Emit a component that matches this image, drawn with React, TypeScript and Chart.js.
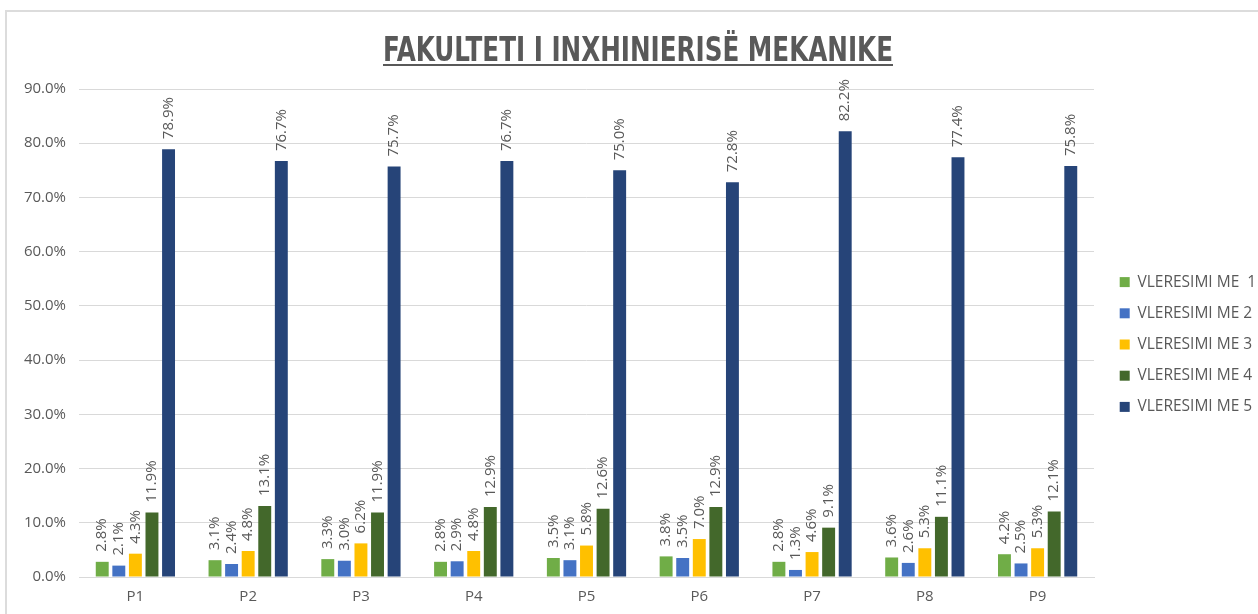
import React, { useEffect, useRef } from 'react';
import { Chart, registerables } from 'chart.js';

Chart.register(...registerables);

const categories = ['P1', 'P2', 'P3', 'P4', 'P5', 'P6', 'P7', 'P8', 'P9'];
const seriesNames = ['VLERESIMI ME  1', 'VLERESIMI ME 2', 'VLERESIMI ME 3', 'VLERESIMI ME 4', 'VLERESIMI ME 5'];
const grade1 = [2.8, 3.1, 3.3, 2.8, 3.5, 3.8, 2.8, 3.6, 4.2];
const grade2 = [2.1, 2.4, 3.0, 2.9, 3.1, 3.5, 1.3, 2.6, 2.5];
const grade3 = [4.3, 4.8, 6.2, 4.8, 5.8, 7.0, 4.6, 5.3, 5.3];
const grade4 = [11.9, 13.1, 11.9, 12.9, 12.6, 12.9, 9.1, 11.1, 12.1];
const grade5 = [78.9, 76.7, 75.7, 76.7, 75.0, 72.8, 82.2, 77.4, 75.8];
const seriesColors = ['#70AD47', '#4472C4', '#FFC000', '#43682B', '#264478'];
const titleText = 'FAKULTETI I INXHINIERISË MEKANIKE';
const yMin = 0;
const yMax = 90;
const yStep = 10;

const TEXT_FONT = "'Open Sans', 'Noto Sans', sans-serif";
const TITLE_FONT = "'Liberation Sans Narrow', 'DejaVu Sans Condensed', 'Liberation Sans', sans-serif";

const legendPlugin = {
  id: 'legendTweak',
  beforeLayout(chart: any) {
    const legend = chart.legend;
    if (legend && !legend.__patched) {
      const orig = legend.fit.bind(legend);
      legend.fit = function () {
        orig();
        this.width = 164;
      };
      legend.__patched = true;
    }
  },
  afterLayout(chart: any) {
    const legend = chart.legend;
    if (legend) {
      legend.left += 10;
      legend.right += 10;
      legend.top -= 7;
      legend.bottom -= 7;
    }
  },
};

const dataLabelPlugin = {
  id: 'barLabels',
  afterDatasetsDraw(chart: any) {
    const ctx = chart.ctx;
    ctx.save();
    ctx.font = `15px ${TEXT_FONT}`;
    ctx.fillStyle = '#595959';
    ctx.textAlign = 'left';
    ctx.textBaseline = 'middle';
    chart.data.datasets.forEach((ds: any, di: number) => {
      const meta = chart.getDatasetMeta(di);
      meta.data.forEach((bar: any, i: number) => {
        const v = ds.data[i];
        ctx.save();
        ctx.translate(bar.x, bar.y - 10);
        ctx.rotate(-Math.PI / 2);
        ctx.fillText(v.toFixed(1) + '%', 0, 0);
        ctx.restore();
      });
    });
    ctx.restore();
  },
};

const titlePlugin = {
  id: 'underlinedTitle',
  afterDraw(chart: any) {
    const ctx = chart.ctx;
    const targetWidth = 510;
    const cx = 638;
    const baseline = 61;
    ctx.save();
    ctx.font = `bold 33px ${TITLE_FONT}`;
    const w = ctx.measureText(titleText).width;
    const sx = targetWidth / w;
    ctx.fillStyle = '#595959';
    ctx.textAlign = 'center';
    ctx.textBaseline = 'alphabetic';
    ctx.translate(cx, baseline);
    ctx.scale(sx, 1);
    ctx.fillText(titleText, 0, 0);
    ctx.restore();
    ctx.save();
    ctx.fillStyle = '#595959';
    ctx.fillRect(cx - targetWidth / 2, baseline + 3, targetWidth, 2);
    ctx.restore();
  },
};

export default function App() {
  const canvasRef = useRef<HTMLCanvasElement | null>(null);

  useEffect(() => {
    if (!canvasRef.current) return;
    const values = [grade1, grade2, grade3, grade4, grade5];
    const chart = new Chart(canvasRef.current, {
      type: 'bar',
      data: {
        labels: categories,
        datasets: values.map((d, i) => ({
          label: seriesNames[i],
          data: d,
          backgroundColor: seriesColors[i],
          borderWidth: 0,
          categoryPercentage: 0.735,
          barPercentage: 0.78,
        })),
      },
      options: {
        animation: false,
        responsive: true,
        maintainAspectRatio: false,
        layout: { padding: { left: 0, right: 0, top: 89, bottom: 0 } },
        plugins: {
          title: { display: false },
          legend: {
            display: true,
            position: 'right',
            align: 'center',
            labels: {
              boxWidth: 10,
              boxHeight: 10,
              padding: 15.7,
              color: '#595959',
              font: { family: TEXT_FONT, size: 15.5 },
            },
          },
          tooltip: { enabled: false },
        },
        scales: {
          x: {
            grid: { display: false, drawTicks: false },
            border: { display: true, color: '#d9d9d9', width: 1 },
            ticks: { color: '#595959', font: { family: TEXT_FONT, size: 15 }, padding: 11 },
            afterFit: (scale: any) => {
              scale.height = 37;
            },
          },
          y: {
            min: yMin,
            max: yMax,
            grid: { color: '#d9d9d9', lineWidth: 1, drawTicks: false },
            border: { display: false },
            ticks: {
              stepSize: yStep,
              color: '#595959',
              font: { family: TEXT_FONT, size: 15 },
              padding: 13,
              callback: (v: any) => Number(v).toFixed(1) + '%',
            },
            afterFit: (scale: any) => {
              scale.width = 79;
            },
          },
        },
      },
      plugins: [legendPlugin, dataLabelPlugin, titlePlugin],
    });
    return () => chart.destroy();
  }, []);

  return (
    <div style={{ position: 'fixed', left: 0, top: 0, width: 1258, height: 614, overflow: 'hidden', background: '#ffffff' }}>
      <canvas ref={canvasRef} style={{ width: '100%', height: '100%' }} />
      <div
        style={{
          position: 'absolute',
          left: 5,
          top: 10,
          width: 1400,
          height: 800,
          borderTop: '2px solid #dcdcdc',
          borderLeft: '2px solid #dcdcdc',
          pointerEvents: 'none',
        }}
      />
    </div>
  );
}
